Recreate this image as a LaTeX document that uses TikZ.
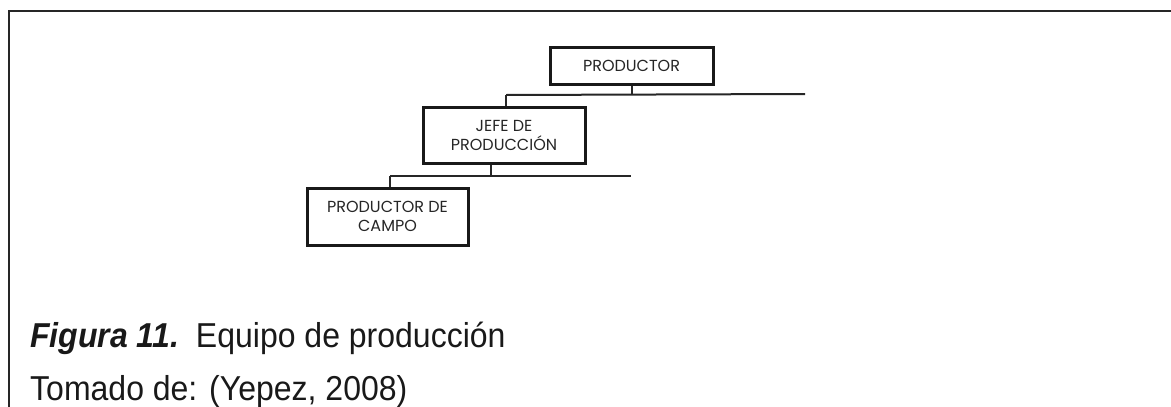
\documentclass[tikz,border=0pt]{standalone}
\usepackage{fontspec}
\setmainfont{Liberation Sans}
\newfontfamily\boxfont{Poppins}
\begin{document}
\begin{tikzpicture}[x=1pt,y=-1pt,
  orgbox/.style={draw=black!90, line width=3pt, inner sep=0pt, align=center,
    font=\boxfont\fontsize{16}{19}\selectfont, text=black!85},
  conn/.style={draw=black!85, line width=2pt},
  frame/.style={draw=black!85, line width=2pt},
  caption/.style={anchor=base west, inner sep=0pt, text=black!90,
    font=\fontsize{32}{36}\selectfont}]
\useasboundingbox (0,0) rectangle (1171,407);
% frame
\coordinate (fc) at (8.5,10.5);
\coordinate (fr) at (1171,10.5);
\coordinate (fb) at (8.5,407);
\draw[frame] (fb) -- (fc) -- (fr);
% boxes
\node[orgbox, minimum width=163pt, minimum height=37pt] (p) at (631.5,65.5) {PRODUCTOR};
\node[orgbox, minimum width=162pt, minimum height=56pt] (j) at (504,135) {JEFE DE\\PRODUCCIÓN};
\node[orgbox, minimum width=161pt, minimum height=57pt] (c) at (387.5,216.5) {PRODUCTOR DE\\CAMPO};
% connectors level 1
\coordinate (b1) at (506,95);
\coordinate (e1) at (805,94);
\draw[conn] (p.south) -- (p.south |- b1);
\draw[conn] (b1) -- (e1);
\draw[conn] (b1) -- (j.north -| b1);
% connectors level 2
\coordinate (js) at ([xshift=-13pt]j.south);
\coordinate (b2) at (390,176);
\coordinate (e2) at (631,176);
\draw[conn] (js) -- (js |- b2);
\draw[conn] (b2) -- (e2);
\draw[conn] (b2) -- (c.north -| b2);
% caption
\node[caption] (cap1) at (30,347) {\scalebox{1}[1.08]{\textbf{\textit{Figura 11.}}\hspace{17pt}Equipo de producción}};
\node[caption] (cap2) at (30,400) {\scalebox{1}[1.08]{Tomado de: (Yepez, 2008)}};
\end{tikzpicture}
\end{document}
